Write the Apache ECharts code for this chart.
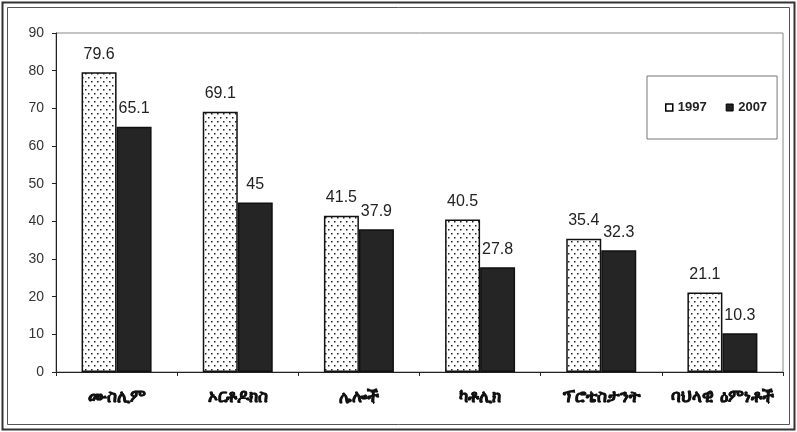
<!DOCTYPE html>
<html>
<head>
<meta charset="utf-8">
<script src="https://cdn.jsdelivr.net/npm/echarts@6/dist/echarts.min.js"></script>
<style>
html,body{margin:0;padding:0;background:#fff;}
#chart{width:797px;height:432px;}
</style>
</head>
<body>
<div id="chart"></div>
<script>
const categories = ['ሙስሊም', 'ኦርቶዶክስ', 'ሌሎች', 'ካቶሊክ', 'ፕሮቴስታንት', 'ባህላዊ ዕምነቶች'];
const values1997 = [79.6, 69.1, 41.5, 40.5, 35.4, 21.1];
const values2007 = [65.1, 45, 37.9, 27.8, 32.3, 10.3];
const seriesNames = ['1997', '2007'];

// dotted pattern
const pc = document.createElement('canvas');
pc.width = 6; pc.height = 8;
const ctx = pc.getContext('2d');
ctx.fillStyle = '#fff';
ctx.fillRect(0, 0, 6, 8);
ctx.fillStyle = '#222';
ctx.fillRect(1, 1, 1.5, 1.5);
ctx.fillRect(4, 5, 1.5, 1.5);

const chart = echarts.init(document.getElementById('chart'), null, {renderer: 'canvas'});
const labelStyle = {
  show: true, position: 'top', distance: 10,
  fontFamily: 'Liberation Sans, Arial, sans-serif', fontSize: 16, color: '#222'
};
chart.setOption({
  animation: false,
  backgroundColor: '#fff',
  grid: {left: 56, right: 14, top: 33, bottom: 60, show: true, borderColor: '#888', borderWidth: 1},
  legend: {
    left: 647, top: 76, padding: [25, 10, 25, 18], itemGap: 19,
    borderColor: '#777', borderWidth: 1,
    itemWidth: 7, itemHeight: 7,
    textStyle: {fontFamily: 'Liberation Sans, Arial, sans-serif', fontSize: 13, fontWeight: 'bold', color: '#222'},
    data: [
      {name: seriesNames[0], icon: 'rect', itemStyle: {color: '#fff', borderColor: '#000', borderWidth: 1.5}},
      {name: seriesNames[1], icon: 'rect', itemStyle: {color: '#222', borderColor: '#000', borderWidth: 1}}
    ]
  },
  xAxis: {
    type: 'category', data: categories,
    axisLine: {lineStyle: {color: '#222', width: 1}},
    axisTick: {show: true, length: 4, lineStyle: {color: '#222'}},
    axisLabel: {interval: 0, hideOverlap: false, margin: 17, fontFamily: 'DejaVu Sans, sans-serif', fontSize: 17, fontWeight: 'bold', color: '#111', textBorderColor: '#111', textBorderWidth: 0.5}
  },
  yAxis: {
    type: 'value', min: 0, max: 90, interval: 10,
    axisLine: {show: true, lineStyle: {color: '#222', width: 1}},
    axisTick: {show: true, length: 4, lineStyle: {color: '#222'}},
    splitLine: {show: false},
    axisLabel: {margin: 12, fontFamily: 'Liberation Sans, Arial, sans-serif', fontSize: 14, color: '#333'}
  },
  series: [
    {
      name: seriesNames[0], type: 'bar', data: values1997, barWidth: 35, barGap: '0%',
      itemStyle: {color: {image: pc, repeat: 'repeat'}, borderColor: '#111', borderWidth: 1.5},
      label: labelStyle
    },
    {
      name: seriesNames[1], type: 'bar', data: values2007, barWidth: 35,
      itemStyle: {color: '#252525', borderColor: '#111', borderWidth: 1.5},
      label: labelStyle
    }
  ],
  graphic: [
    {type: 'rect', shape: {x: 2.5, y: 2.5, width: 792, height: 427}, style: {fill: null, stroke: '#333', lineWidth: 2}, silent: true},
    {type: 'rect', shape: {x: 7.5, y: 7.5, width: 782, height: 417}, style: {fill: null, stroke: '#555', lineWidth: 1}, silent: true}
  ]
});
</script>
</body>
</html>
